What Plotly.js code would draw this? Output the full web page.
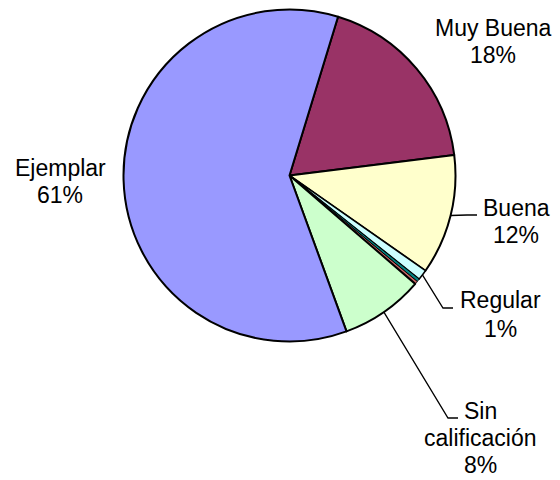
<!DOCTYPE html>
<html><head><meta charset="utf-8">
<script src="https://cdn.plot.ly/plotly-3.0.1.min.js"></script>
<style>html,body{margin:0;padding:0;background:#fff}</style>
</head><body><div id="chart" style="width:560px;height:480px"></div>
<script>
// ---- data ----
const categories = ['Muy Buena', 'Buena', 'Regular', 'Deficiente', 'Mala', 'Sin calificación', 'Ejemplar'];
const values = [18.3, 11.7, 1.0, 0.3, 0.3, 8.1, 60.3];
const pctLabels = ['18%', '12%', '1%', '', '', '8%', '61%'];
const labelLines = [['Muy Buena'], ['Buena'], ['Regular'], [], [], ['Sin', 'calificación'], ['Ejemplar']];
const colors = ['#993366', '#FFFFCC', '#CCFFFF', '#008080', '#CC6666', '#CCFFCC', '#9999FF'];

// ---- layout / style ----
const W = 560, H = 480;
const CX = 289.5, CY = 175.5, R = 166;
const ROT = 17;
// label positions (px): x center, first line y, line spacing, leader elbow/end
const labelStyle = {
  'Muy Buena': {x: 493, y: 28, dy: 27},
  'Buena': {x: 516, y: 208, dy: 27, elbow: [467, 215], end: [477, 215]},
  'Regular': {x: 500, y: 300, dy: 29, elbow: [443, 308], end: [453, 308]},
  'Sin calificación': {x: 481, y: 411, dy: 27, elbow: [448, 418], end: [458, 418]},
  'Ejemplar': {x: 60, y: 168, dy: 27}
};
const font = {family: 'Liberation Sans, Arial, sans-serif', size: 23, color: '#000'};

const px = x => x / W, py = y => 1 - y / H;

const total = values.reduce((a, b) => a + b, 0);
const annotations = [], shapes = [];
let acc = 0;
values.forEach((v, i) => {
  const a0 = ROT + acc / total * 360;
  acc += v;
  const a1 = ROT + acc / total * 360;
  const mid = (a0 + a1) / 2 * Math.PI / 180;
  const st = labelStyle[categories[i]];
  if (!st) return;
  const lines = labelLines[i].concat([pctLabels[i]]);
  lines.forEach((t, k) => {
    annotations.push({xref: 'paper', yref: 'paper', x: px(st.x), y: py(st.y + k * st.dy),
      xanchor: 'center', yanchor: 'middle', showarrow: false, text: t, font: font});
  });
  if (st.elbow) {
    const ex = CX + R * Math.sin(mid), ey = CY - R * Math.cos(mid);
    shapes.push({type: 'path', xref: 'paper', yref: 'paper',
      path: `M ${px(ex)} ${py(ey)} L ${px(st.elbow[0])} ${py(st.elbow[1])} L ${px(st.end[0])} ${py(st.end[1])}`,
      line: {color: '#000', width: 1.3}});
  }
});

const trace = {
  type: 'pie', labels: categories, values: values, sort: false,
  direction: 'clockwise', rotation: ROT, textinfo: 'none', hoverinfo: 'label+percent',
  marker: {colors: colors, line: {color: '#000', width: [2, 2, 1.5, 1, 1, 2, 2]}},
  domain: {x: [(CX - R) / W, (CX + R) / W], y: [1 - (CY + R) / H, 1 - (CY - R) / H]},
  showlegend: false
};

Plotly.newPlot('chart', [trace], {
  width: W, height: H, margin: {l: 0, r: 0, t: 0, b: 0},
  paper_bgcolor: '#fff', showlegend: false,
  annotations: annotations, shapes: shapes
}, {displayModeBar: false, staticPlot: true});
</script></body></html>
